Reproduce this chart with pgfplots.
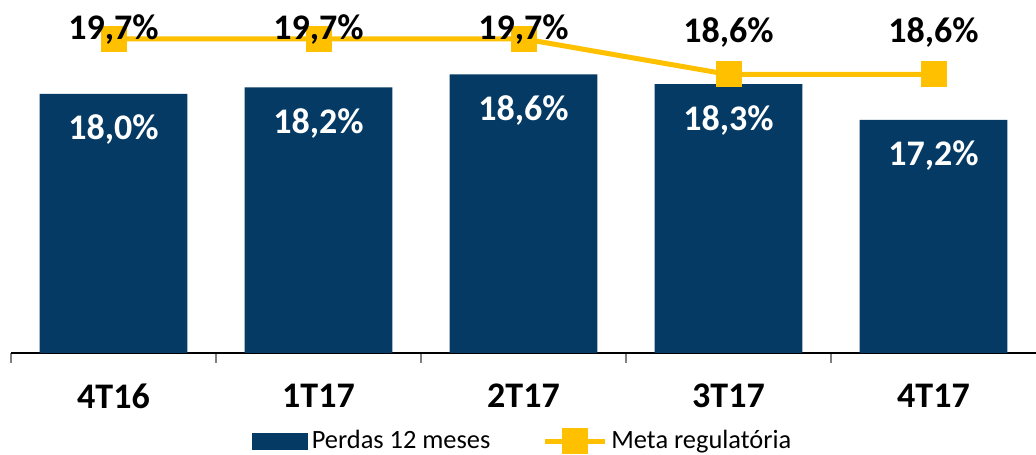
\documentclass[border=0pt]{standalone}
\usepackage{pgfplots}
\pgfplotsset{compat=1.18}
\usepackage{fontspec}
\setmainfont{Carlito}
\definecolor{navy}{RGB}{4,58,99}
\definecolor{gold}{RGB}{255,192,0}
\pgfplotsset{
  barleg/.style={legend image code/.code={\fill[navy] (0pt,-4.25pt) rectangle (28pt,4.25pt);}},
  lineleg/.style={legend image code/.code={\draw[##1, mark repeat=2, mark phase=2] plot coordinates {(0pt,0pt)(15pt,0pt)(30pt,0pt)};}},
}
\begin{document}
\begin{tikzpicture}
\begin{axis}[
  at={(5.5pt,50.5pt)}, anchor=south west,
  scale only axis, width=512.5pt, height=176.5pt,
  xmin=-0.5, xmax=4.5, ymin=10, ymax=20.9,
  axis x line*=bottom, axis y line=none,
  x axis line style={-, black, line width=0.6pt},
  xtick={0,...,4}, xticklabels={4T16,1T17,2T17,3T17,4T17},
  major x tick style={draw=none},
  minor xtick={-0.5,0.5,1.5,2.5,3.5},
  minor x tick style={gray, line width=0.6pt},
  minor tick length=5pt, tick align=outside,
  xticklabel style={font=\bfseries\fontsize{18}{20}\selectfont, anchor=north, inner sep=0pt, yshift=-11pt},
  ytick=\empty,
  clip=false,
  legend columns=2,
  legend style={at={(0.5,-0.25)}, anchor=center, draw=none, fill=none,
    font=\fontsize{13.2}{15}\selectfont,
    /tikz/every even column/.append style={column sep=24pt}},
]
\addplot[ybar, bar width=0.72, bar shift=0pt, fill=navy, draw=none,
  point meta=y,
  nodes near coords={\pgfmathprintnumber[fixed,fixed zerofill,precision=1,use comma,assume math mode=true]{\pgfplotspointmeta}\%},
  nodes near coords style={white, font=\bfseries\fontsize{18}{20}\selectfont, anchor=center, yshift=-18pt},
  barleg]
  coordinates {(0,18.0)(1,18.2)(2,18.6)(3,18.3)(4,17.2)};
\addlegendentry{Perdas 12 meses}
\addplot[gold, line width=2.5pt, mark=square*, mark size=5.25pt,
  mark options={draw=none, fill=gold},
  point meta=y,
  nodes near coords={\pgfmathprintnumber[fixed,fixed zerofill,precision=1,use comma,assume math mode=true]{\pgfplotspointmeta}\%},
  nodes near coords style={black, font=\bfseries\fontsize{18}{20}\selectfont, anchor=center, yshift=4.5pt},
  coordinate style/.condition={\coordindex>2}{yshift=16.25pt},
  lineleg]
  coordinates {(0,19.7)(1,19.7)(2,19.7)(3,18.6)(4,18.6)};
\addlegendentry{Meta regulatória}
\end{axis}
\pgfresetboundingbox
\path[use as bounding box] (0,0) rectangle (518pt,227pt);
\end{tikzpicture}
\end{document}
